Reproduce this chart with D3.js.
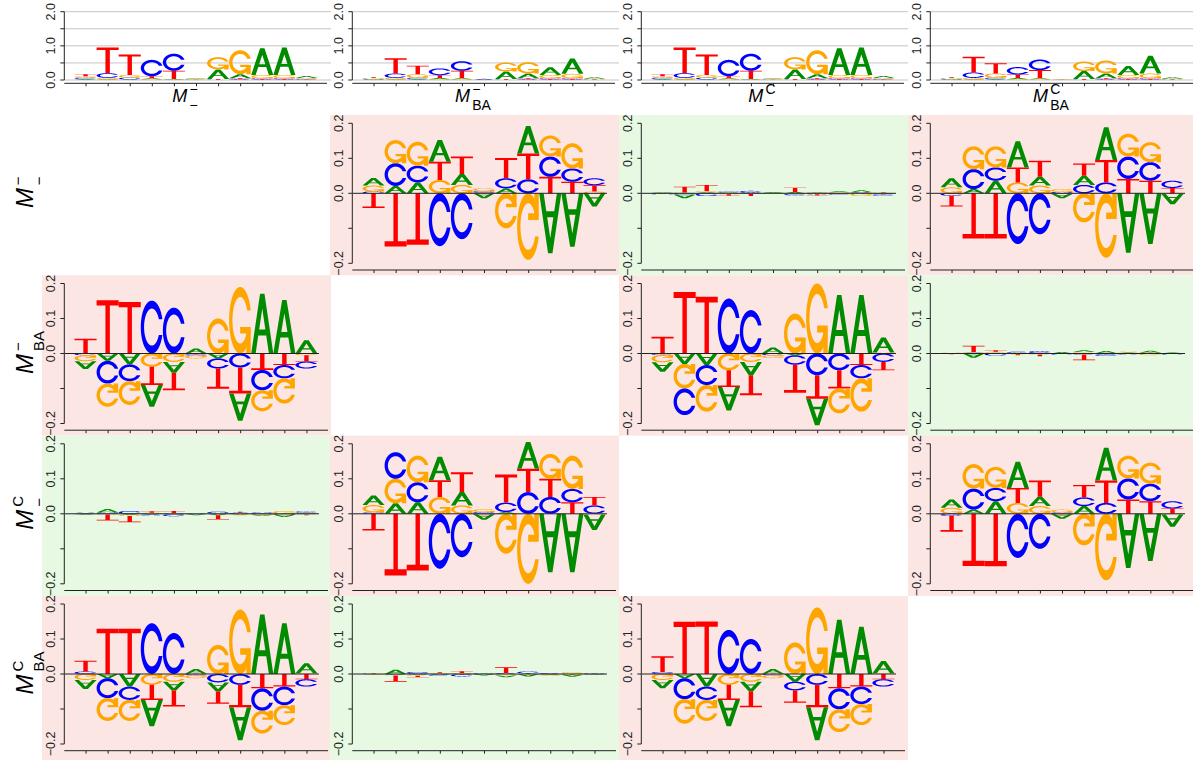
<!DOCTYPE html>
<html><head><meta charset="utf-8">
<script src="https://cdn.jsdelivr.net/npm/d3@7"></script>
<style>body{margin:0;background:#fff} svg{display:block}</style>
</head><body><svg id="chart" width="1193" height="760"></svg>
<script>
// ---------------- DATA ----------------
const positions = [1,2,3,4,5,6,7,8,9,10,11];
const alphabet = ["A","C","G","T"];
const letterColors = ["#008B00","#0000FF","#FFA500","#FF0000"];
const motifSup = ["\u2212","\u2212","C","C"];
const motifSub = ["\u2212","BA","\u2212","BA"];
const topTicks = [0,0.5,1,1.5,2];
const topTickLabels = ["0.0","","1.0","","2.0"];
const diffTicks = [-0.2,-0.1,0,0.1,0.2];
const diffTickLabels = ["\u22120.2","","0.0","0.1","0.2"];

// sequence logos (bits) for the four motifs, per letter
const logoMmm_A = [0.03,0.02,0.02,0.03,0.02,0.02,0.28,0.12,0.78,0.80,0.06];
const logoMmm_C = [0.04,0.14,0.05,0.48,0.50,0.01,0.01,0.02,0.03,0.03,0.02];
const logoMmm_G = [0.04,0.04,0.08,0.02,0.01,0.01,0.36,0.70,0.10,0.10,0.03];
const logoMmm_T = [0.06,0.75,0.60,0.06,0.24,0.01,0.02,0.03,0.02,0.02,0.01];

const logoMmBA_A = [0.02,0.02,0.03,0.04,0.03,0.01,0.22,0.14,0.22,0.45,0.04];
const logoMmBA_C = [0.02,0.13,0.04,0.20,0.28,0.01,0.01,0.02,0.03,0.03,0.01];
const logoMmBA_G = [0.02,0.04,0.10,0.02,0.02,0.01,0.26,0.33,0.10,0.13,0.02];
const logoMmBA_T = [0.02,0.45,0.25,0.08,0.22,0.01,0.02,0.03,0.02,0.02,0.01];

const logoMCm_A = [0.03,0.02,0.02,0.03,0.02,0.02,0.28,0.12,0.78,0.80,0.06];
const logoMCm_C = [0.04,0.14,0.05,0.48,0.50,0.01,0.01,0.02,0.03,0.03,0.02];
const logoMCm_G = [0.04,0.04,0.08,0.02,0.01,0.01,0.36,0.70,0.10,0.10,0.03];
const logoMCm_T = [0.06,0.75,0.60,0.06,0.24,0.01,0.02,0.03,0.02,0.02,0.01];

const logoMCBA_A = [0.02,0.02,0.03,0.04,0.03,0.005,0.23,0.14,0.26,0.52,0.04];
const logoMCBA_C = [0.02,0.16,0.04,0.22,0.31,0.005,0.01,0.02,0.03,0.03,0.01];
const logoMCBA_G = [0.02,0.04,0.12,0.02,0.02,0.005,0.28,0.38,0.10,0.14,0.02];
const logoMCBA_T = [0.02,0.46,0.30,0.10,0.24,0.005,0.02,0.03,0.02,0.02,0.01];

// difference logos (row motif vs column motif), signed heights per letter
const diff_0_1_A = [ 0.022, 0.021, 0.031, 0.062, 0.031,-0.014, 0.014, 0.078,-0.171,-0.153,-0.038];
const diff_0_1_C = [ 0.005, 0.065, 0.048,-0.151,-0.131, 0.004, 0.029, 0.040, 0.058, 0.038, 0.020];
const diff_0_1_G = [ 0.017, 0.066, 0.068, 0.038, 0.024, 0.008,-0.100,-0.190, 0.060, 0.072, 0.005];
const diff_0_1_T = [-0.042,-0.152,-0.147, 0.052, 0.050, 0.002, 0.058, 0.074, 0.047, 0.033, 0.018];

const diff_0_2_A = [ 0.002,-0.010, 0.003, 0.002, 0.001, 0.003, 0.004, 0.002, 0.003, 0.006,-0.003];
const diff_0_2_C = [-0.002,-0.004,-0.008, 0.003, 0.006, 0.001,-0.004,-0.003,-0.004, 0.002,-0.004];
const diff_0_2_G = [ 0.001, 0.002, 0.003,-0.003,-0.002,-0.001,-0.002, 0.002, 0.002,-0.008, 0.002];
const diff_0_2_T = [-0.001, 0.017, 0.018,-0.004,-0.006, 0.000, 0.012,-0.003, 0.001, 0.001, 0.002];

const diff_3_0_A = [-0.026,-0.012,-0.036,-0.075,-0.025, 0.013,-0.026,-0.094, 0.170, 0.145, 0.029];
const diff_3_0_C = [ 0.007,-0.057,-0.038, 0.145, 0.117,-0.004,-0.024,-0.031,-0.064,-0.053,-0.021];
const diff_3_0_G = [-0.017,-0.065,-0.060,-0.031,-0.022,-0.008, 0.083, 0.184,-0.065,-0.057, 0.002];
const diff_3_0_T = [ 0.031, 0.129, 0.129,-0.043,-0.046, 0.001,-0.035,-0.064,-0.041,-0.036,-0.015];

const diff_1_2_A = [-0.027,-0.030,-0.033,-0.067,-0.038, 0.016,-0.005,-0.076, 0.167, 0.167, 0.043];
const diff_1_2_C = [-0.004,-0.076,-0.057, 0.157, 0.124,-0.005,-0.027,-0.062,-0.048,-0.038,-0.024];
const diff_1_2_G = [-0.021,-0.070,-0.076,-0.048,-0.024,-0.008, 0.114, 0.200,-0.071,-0.095, 0.003];
const diff_1_2_T = [ 0.048, 0.176, 0.162,-0.048,-0.057, 0.001,-0.080,-0.067,-0.052,-0.033,-0.024];

const diff_1_3_A = [ 0.001,-0.012, 0.002, 0.002, 0.001, 0.004, 0.005, 0.006, 0.002, 0.006, 0.002];
const diff_1_3_C = [-0.001, 0.002,-0.006, 0.003, 0.006,-0.002,-0.003,-0.005,-0.003, 0.001,-0.002];
const diff_1_3_G = [ 0.001, 0.002, 0.003,-0.002,-0.003,-0.001, 0.004, 0.001, 0.002,-0.005, 0.001];
const diff_1_3_T = [-0.001, 0.018, 0.004,-0.003,-0.005, 0.000,-0.016,-0.002, 0.001, 0.001,-0.001];

const diff_3_2_A = [-0.024,-0.012,-0.036,-0.075,-0.027, 0.013,-0.022,-0.094, 0.155, 0.135, 0.035];
const diff_3_2_C = [ 0.006,-0.060,-0.038, 0.126, 0.100,-0.004,-0.025,-0.031,-0.060,-0.050,-0.021];
const diff_3_2_G = [-0.017,-0.070,-0.060,-0.031,-0.022,-0.008, 0.090, 0.190,-0.065,-0.060, 0.002];
const diff_3_2_T = [ 0.045, 0.149, 0.150,-0.043,-0.046, 0.001,-0.035,-0.064,-0.041,-0.036,-0.015];

const significant = [[null,1,0,1],[1,null,1,0],[0,1,null,1],[1,0,1,null]];

// ---------------- LAYOUT ----------------
const colX = [42,330,619,908];
const panelW = 289;
const rowZero = [193.3,353.5,513.8,674];
const rowTop = [115,275.3,435.6,596];
const bgPink = "#FBE6E4", bgGreen = "#E7F9E3";
const fontFam = "'Liberation Sans', Arial, Helvetica, sans-serif";

const svg = d3.select("#chart");

const logos = [
  [logoMmm_A,logoMmm_C,logoMmm_G,logoMmm_T],
  [logoMmBA_A,logoMmBA_C,logoMmBA_G,logoMmBA_T],
  [logoMCm_A,logoMCm_C,logoMCm_G,logoMCm_T],
  [logoMCBA_A,logoMCBA_C,logoMCBA_G,logoMCBA_T]
];
const diffStore = {
  "0_1":[diff_0_1_A,diff_0_1_C,diff_0_1_G,diff_0_1_T],
  "0_2":[diff_0_2_A,diff_0_2_C,diff_0_2_G,diff_0_2_T],
  "3_0":[diff_3_0_A,diff_3_0_C,diff_3_0_G,diff_3_0_T],
  "1_2":[diff_1_2_A,diff_1_2_C,diff_1_2_G,diff_1_2_T],
  "1_3":[diff_1_3_A,diff_1_3_C,diff_1_3_G,diff_1_3_T],
  "3_2":[diff_3_2_A,diff_3_2_C,diff_3_2_G,diff_3_2_T]
};
function diffFor(r,c){
  if (diffStore[r+"_"+c]) return diffStore[r+"_"+c];
  return diffStore[c+"_"+r].map(arr=>arr.map(v=>-v));
}

// ---------------- LETTER SHAPES (unit square, y up) ----------------
function seq(a,b,n){return d3.range(n).map(i=>a+(b-a)*i/(n-1));}
const ring = (function(){
  const a1=seq(0.3+Math.PI/2,Math.PI,100), a2=seq(Math.PI,1.5*Math.PI,100);
  const xl1=a1.map(a=>0.5+0.5*Math.sin(a)), yl1=a1.map(a=>0.5+0.5*Math.cos(a));
  const xl2=a2.map(a=>0.5+0.5*Math.sin(a)), yl2=a2.map(a=>0.5+0.5*Math.cos(a));
  const xl=xl1.concat(xl2), yl=yl1.concat(yl2);
  const x=xl.concat(xl.slice().reverse()), y=yl.concat(yl.slice().reverse().map(v=>1-v));
  const maxY=d3.max(yl1);
  let xi1=a1.map(a=>0.5+0.35*Math.sin(a)), yi1=a1.map(a=>0.5+0.35*Math.cos(a));
  const keep=yi1.map(v=>v<=maxY);
  xi1=xi1.filter((v,i)=>keep[i]); yi1=yi1.filter((v,i)=>keep[i]); yi1[0]=maxY;
  const xi2=a2.map(a=>0.5+0.35*Math.sin(a)), yi2=a2.map(a=>0.5+0.35*Math.cos(a));
  const xi=xi1.concat(xi2), yi=yi1.concat(yi2);
  const x1=xi.concat(xi.slice().reverse()), y1=yi.concat(yi.slice().reverse().map(v=>1-v));
  const X=x.concat(x1.slice().reverse()), Y=y.concat(y1.slice().reverse());
  return {pts:X.map((v,i)=>[v,Y[i]]), r1:d3.max(xl1)};
})();
const shapes = {
  A:[[[0,0],[0.4,1],[0.6,1],[1,0],[0.8,0],[0.68,0.3],[0.32,0.3],[0.2,0]],
     [[0.36,0.4],[0.5,0.75],[0.64,0.4]]],
  C:[ring.pts],
  G:[ring.pts,[[ring.r1,0.4],[0.5,0.4],[0.5,0.3],[ring.r1-0.2,0.3],[ring.r1-0.2,0],[ring.r1,0]]],
  T:[[[0,1],[1,1],[1,0.9],[0.6,0.9],[0.6,0],[0.4,0],[0.4,0.9],[0,0.9]]]
};

function drawLetter(g, li, pos, base, h, sign, xs, ys){
  const ch = alphabet[li];
  const polys = shapes[ch];
  const toPx = p => [xs(pos-0.5+p[0]), ys(base + sign*p[1]*h)];
  if (ch==="A"){
    const d = polys.map(poly=>"M"+poly.map(p=>toPx(p).join(",")).join("L")+"Z").join("");
    g.append("path").attr("d",d).attr("fill",letterColors[li]).attr("fill-rule","evenodd");
  } else {
    polys.forEach(poly=>{
      g.append("path").attr("d","M"+poly.map(p=>toPx(p).join(",")).join("L")+"Z")
        .attr("fill",letterColors[li]);
    });
  }
}

function drawStacks(g, data, xs, ys){
  positions.forEach((pos,pi)=>{
    const vals = alphabet.map((ch,li)=>({li, v:data[li][pi]}));
    const pos_ = vals.filter(d=>d.v>0).sort((a,b)=>a.v-b.v);
    const neg_ = vals.filter(d=>d.v<0).sort((a,b)=>b.v-a.v);
    let acc=0;
    pos_.forEach(d=>{ drawLetter(g,d.li,pos,acc,d.v,1,xs,ys); acc+=d.v; });
    acc=0;
    neg_.forEach(d=>{ drawLetter(g,d.li,pos,acc,-d.v,-1,xs,ys); acc+=d.v; });
  });
}

// ---------------- LABELS ----------------
function mathLabel(g, sup, sub, size, subSize){
  const t = g.append("g");
  const m = t.append("text").text("M").attr("font-family",fontFam).attr("font-style","italic")
    .attr("font-size",size).attr("fill","#000");
  const mw = m.node().getComputedTextLength();
  const sx = mw + size*0.12;
  const s1 = t.append("text").text(sup).attr("x",sx).attr("y",-size*0.42)
    .attr("font-family",fontFam).attr("font-size",subSize).attr("fill","#000");
  const s2 = t.append("text").text(sub).attr("x",sx).attr("y",size*0.45)
    .attr("font-family",fontFam).attr("font-size",subSize).attr("fill","#000");
  const w = sx + Math.max(s1.node().getComputedTextLength(), s2.node().getComputedTextLength());
  return {node:t, width:w};
}

function yAxisLabels(g, ticks, labels, ys, ax){
  ticks.forEach((t,i)=>{
    g.append("line").attr("x1",ax-4).attr("x2",ax).attr("y1",ys(t)).attr("y2",ys(t))
      .attr("stroke","#222").attr("stroke-width",1);
    if (labels[i]) {
      g.append("text").text(labels[i])
        .attr("transform",`translate(${ax-9},${ys(t)}) rotate(-90)`)
        .attr("text-anchor","middle").attr("font-family",fontFam).attr("font-size",12.5)
        .attr("fill","#222");
    }
  });
}

// ---------------- TOP ROW (sequence logos) ----------------
for (let c=0;c<4;c++){
  const px = colX[c];
  const g = svg.append("g");
  const xs = d3.scaleLinear().domain([0.5,11.5]).range([px+32.5,px+275.5]);
  const ys = d3.scaleLinear().domain([0,2]).range([80,11.7]);
  const ax = px+22.3;
  // grid
  topTicks.forEach(t=>{
    g.append("line").attr("x1",ax).attr("x2",Math.min(px+289,1193)).attr("y1",ys(t)).attr("y2",ys(t))
      .attr("stroke","#c4c4c4").attr("stroke-width",1);
  });
  drawStacks(g, logos[c], xs, ys);
  // y axis
  g.append("line").attr("x1",ax).attr("x2",ax).attr("y1",ys(0)).attr("y2",ys(2)).attr("stroke","#222");
  yAxisLabels(g, topTicks, topTickLabels, ys, ax);
  // x axis
  const xa = g.append("g").attr("transform","translate(0,83.3)")
    .call(d3.axisBottom(xs).tickValues(positions).tickSize(3).tickFormat(""));
  xa.select(".domain").remove();
  xa.selectAll("line").attr("stroke","#222");
  g.append("line").attr("x1",ax).attr("x2",px+285).attr("y1",83.3).attr("y2",83.3).attr("stroke","#222");
  // label
  const lab = mathLabel(g, motifSup[c], motifSub[c], 18, 14);
  lab.node.attr("transform",`translate(${px+143-lab.width/2},101.7)`);
}

// ---------------- DIFFERENCE PANELS ----------------
for (let r=0;r<4;r++){
  for (let c=0;c<4;c++){
    const px = colX[c];
    const top = rowTop[r];
    const bottom = r<3 ? rowTop[r+1] : 760;
    if (r===c) continue;
    const g = svg.append("g");
    g.append("rect").attr("x",px).attr("y",top).attr("width",Math.min(panelW,1193-px)).attr("height",bottom-top)
      .attr("fill", significant[r][c] ? bgPink : bgGreen);
    const z = rowZero[r];
    const xs = d3.scaleLinear().domain([0.5,11.5]).range([px+32.5,px+275.5]);
    const ys = d3.scaleLinear().domain([-0.2,0.2]).range([z+70,z-70]);
    drawStacks(g, diffFor(r,c), xs, ys);
    const ax = px+22.3;
    g.append("line").attr("x1",px+23).attr("x2",px+277).attr("y1",ys(0)).attr("y2",ys(0))
      .attr("stroke","#222").attr("stroke-width",1);
    g.append("line").attr("x1",ax).attr("x2",ax).attr("y1",ys(-0.2)).attr("y2",ys(0.2)).attr("stroke","#222");
    yAxisLabels(g, diffTicks, diffTickLabels, ys, ax);
    const xaY = z+76.7;
    const xa = g.append("g").attr("transform",`translate(0,${xaY})`)
      .call(d3.axisBottom(xs).tickValues(positions).tickSize(3).tickFormat(""));
    xa.select(".domain").remove();
    xa.selectAll("line").attr("stroke","#222");
    g.append("line").attr("x1",ax).attr("x2",Math.min(px+286,1193)).attr("y1",xaY).attr("y2",xaY).attr("stroke","#222");
  }
}

// ---------------- ROW LABELS ----------------
for (let r=0;r<4;r++){
  const g = svg.append("g");
  const lab = mathLabel(g, motifSup[r], motifSub[r], 24, 15);
  lab.node.attr("transform",`translate(33,${rowZero[r]-1+lab.width/2}) rotate(-90)`);
}
</script></body></html>
